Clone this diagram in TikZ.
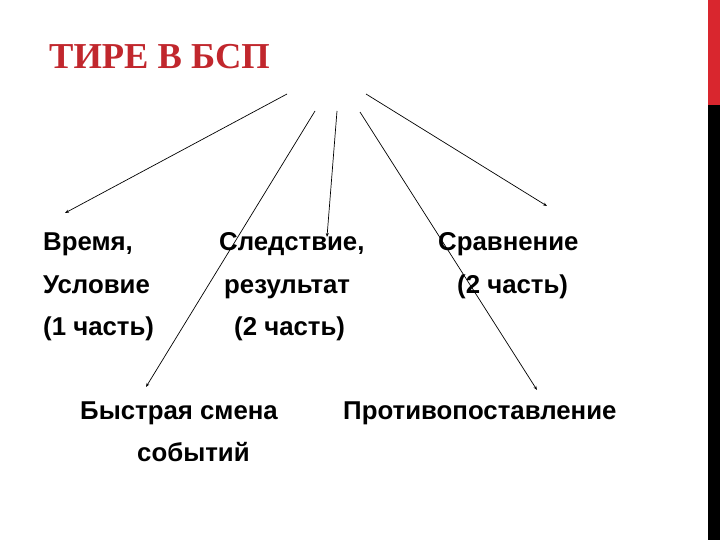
\documentclass[tikz,border=0pt]{standalone}
\usepackage{fontspec}
\setmainfont{Liberation Sans}
\newfontfamily\titlefont{Liberation Serif}
\usetikzlibrary{arrows.meta}
\definecolor{titlered}{HTML}{C1272D}
\definecolor{barred}{HTML}{D9262E}
\tikzset{
  lbl/.style={anchor=base west, inner sep=0pt, font=\bfseries\fontsize{25.8}{30}\selectfont},
  arr/.style={draw=black, line width=0.7pt, -{Stealth[length=4pt,width=3pt]}}
}
\begin{document}
\begin{tikzpicture}[x=1pt,y=-1pt]
\useasboundingbox (0,0) rectangle (720,540);
\fill[white] (0,0) rectangle (720,540);
% right-hand bar
\fill[barred] (708,0) rectangle (720,105);
\fill[black] (708,105) rectangle (720,540);
% title
\node[anchor=base west, inner sep=0pt, text=titlered, font=\titlefont\bfseries\fontsize{36.5}{40}\selectfont] (title) at (49,69) {ТИРЕ В БСП};
% labels
\node[lbl] (t1a) at (43,251) {Время,};
\node[lbl] (t1b) at (43,293) {Условие};
\node[lbl] (t1c) at (43,335) {(1 часть)};
\node[lbl] (t2a) at (219,251) {Следствие,};
\node[lbl] (t2b) at (224,293) {результат};
\node[lbl] (t2c) at (234,335) {(2 часть)};
\node[lbl] (t3a) at (438,251) {Сравнение};
\node[lbl] (t3b) at (457,293) {(2 часть)};
\node[lbl] (t4a) at (80,419) {Быстрая смена};
\node[lbl] (t4b) at (137,461) {событий};
\node[lbl] (t5a) at (343,419) {Противопоставление};
% arrow ends
\coordinate (s1) at (287,94);  \coordinate (e1) at (65,213);
\coordinate (s2) at (315,111); \coordinate (e2) at (146,387);
\coordinate (s3) at (337,111); \coordinate (e3) at (327,237);
\coordinate (s4) at (360,112); \coordinate (e4) at (537,390);
\coordinate (s5) at (366,94);  \coordinate (e5) at (547,206);
\draw[arr] (s1) -- (e1);
\draw[arr] (s2) -- (e2);
\draw[arr] (s3) -- (e3);
\draw[arr] (s4) -- (e4);
\draw[arr] (s5) -- (e5);
\end{tikzpicture}
\end{document}
